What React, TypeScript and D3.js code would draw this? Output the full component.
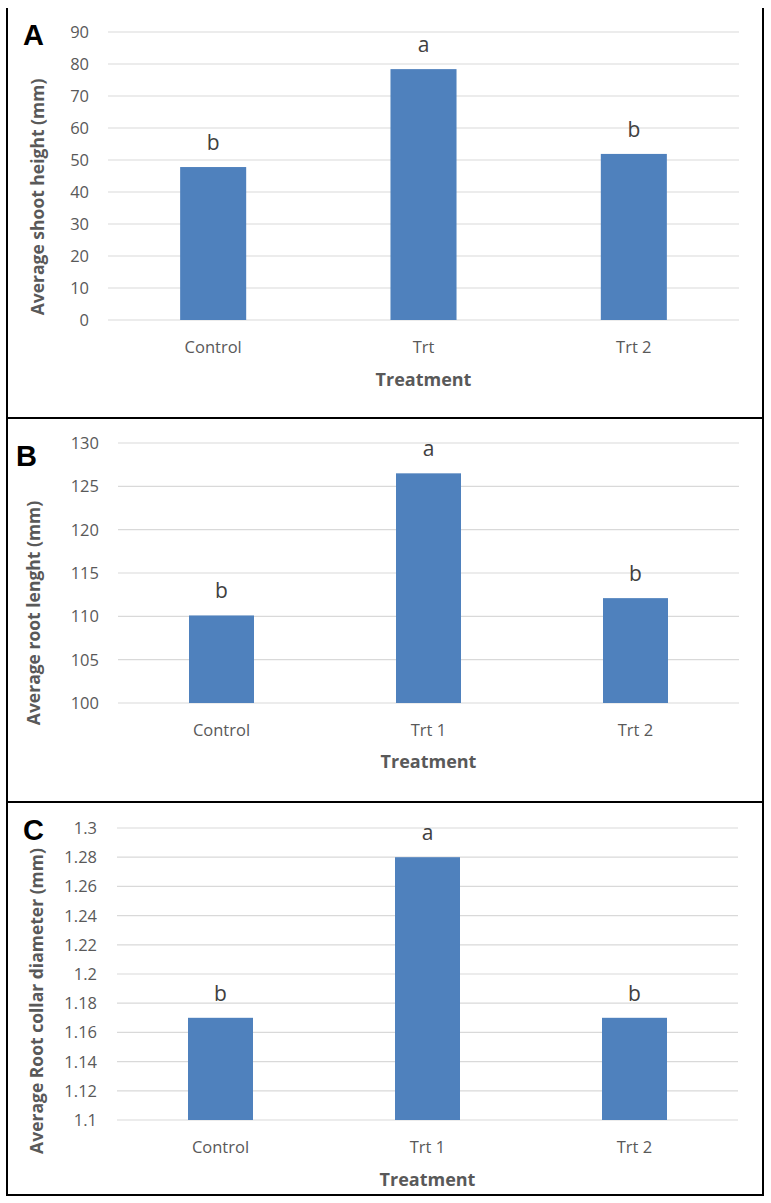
import React from "react";
import * as d3 from "d3";

// ---- data ----
const categoriesA = ["Control", "Trt", "Trt 2"];
const shootHeight = [47.8, 78.4, 51.9];
const lettersA = ["b", "a", "b"];
const ticksA = [0, 10, 20, 30, 40, 50, 60, 70, 80, 90];

const categoriesB = ["Control", "Trt 1", "Trt 2"];
const rootLength = [110.1, 126.5, 112.1];
const lettersB = ["b", "a", "b"];
const ticksB = [100, 105, 110, 115, 120, 125, 130];

const categoriesC = ["Control", "Trt 1", "Trt 2"];
const collarDiameter = [1.17, 1.28, 1.17];
const lettersC = ["b", "a", "b"];
const ticksC = [1.1, 1.12, 1.14, 1.16, 1.18, 1.2, 1.22, 1.24, 1.26, 1.28, 1.3];

const FONT = "'Open Sans', sans-serif";
const GREY = "#595959";
const BAR = "#4f81bd";

type PanelProps = {
  label: string;
  labelX: number;
  labelY: number;
  categories: string[];
  values: number[];
  letters: string[];
  ticks: number[];
  x0: number;
  x1: number;
  yTop: number;
  yBottom: number;
  tickX: number;
  titleX: number;
  titleY: number;
  title: string;
  catY: number;
  treatY: number;
  fmt: (v: number) => string;
};

function Panel(p: PanelProps) {
  const x = d3.scaleBand<string>().domain(p.categories).range([p.x0, p.x1]).paddingInner(0.686).paddingOuter(0.343);
  const y = d3
    .scaleLinear()
    .domain([p.ticks[0], p.ticks[p.ticks.length - 1]])
    .range([p.yBottom, p.yTop]);
  return (
    <g>
      {p.ticks.map((t) => (
        <g key={t}>
          <line x1={p.x0} x2={p.x1} y1={y(t)} y2={y(t)} stroke="#d9d9d9" strokeWidth={1.2} />
          <text x={p.tickX} y={y(t)} dy="0.36em" textAnchor="end" fontFamily={FONT} fontSize={16.5} fill={GREY}>
            {p.fmt(t)}
          </text>
        </g>
      ))}
      {p.categories.map((c, i) => {
        const top = y(p.values[i]);
        const cx = (x(c) as number) + x.bandwidth() / 2;
        return (
          <g key={c}>
            <rect x={x(c)} y={top} width={x.bandwidth()} height={p.yBottom - top} fill={BAR} />
            <text x={cx} y={top - 17} textAnchor="middle" fontFamily={FONT} fontSize={21} fill="#404040">
              {p.letters[i]}
            </text>
            <text x={cx} y={p.catY} dy="0.36em" textAnchor="middle" fontFamily={FONT} fontSize={16.5} fill={GREY}>
              {c}
            </text>
          </g>
        );
      })}
      <text
        transform={`translate(${p.titleX},${p.titleY}) rotate(-90)`}
        dy="0.36em"
        textAnchor="middle"
        fontFamily={FONT}
        fontWeight="bold"
        fontSize={17.5}
        fill={GREY}
      >
        {p.title}
      </text>
      <text
        x={(p.x0 + p.x1) / 2}
        y={p.treatY}
        dy="0.36em"
        textAnchor="middle"
        fontFamily={FONT}
        fontWeight="bold"
        fontSize={18}
        fill={GREY}
      >
        Treatment
      </text>
      <text x={p.labelX} y={p.labelY} fontFamily="'Liberation Sans', Arial, sans-serif" fontWeight="bold" fontSize={29} fill="#000">
        {p.label}
      </text>
    </g>
  );
}

export default function App() {
  const fmtInt = (v: number) => String(v);
  const fmtDec = (v: number) => String(+v.toFixed(2));
  return (
    <svg width={771} height={1203} style={{ position: "absolute", left: 0, top: 0, background: "#fff" }}>
      <rect x={0} y={0} width={771} height={1203} fill="#fff" />
      <Panel
        label="A"
        labelX={23}
        labelY={45}
        categories={categoriesA}
        values={shootHeight}
        letters={lettersA}
        ticks={ticksA}
        x0={108}
        x1={739}
        yTop={32}
        yBottom={320}
        tickX={89}
        titleX={38}
        titleY={197}
        title="Average shoot height (mm)"
        catY={347}
        treatY={380}
        fmt={fmtInt}
      />
      <Panel
        label="B"
        labelX={16}
        labelY={466}
        categories={categoriesB}
        values={rootLength}
        letters={lettersB}
        ticks={ticksB}
        x0={118}
        x1={739}
        yTop={443}
        yBottom={703}
        tickX={99}
        titleX={34}
        titleY={613}
        title="Average root lenght (mm)"
        catY={730}
        treatY={762}
        fmt={fmtInt}
      />
      <Panel
        label="C"
        labelX={23}
        labelY={840}
        categories={categoriesC}
        values={collarDiameter}
        letters={lettersC}
        ticks={ticksC}
        x0={117}
        x1={738}
        yTop={828}
        yBottom={1120}
        tickX={97}
        titleX={37}
        titleY={1001}
        title="Average Root collar diameter (mm)"
        catY={1147}
        treatY={1180}
        fmt={fmtDec}
      />
      {/* frame */}
      <g stroke="#000" strokeWidth={2} fill="none">
        <line x1={7} x2={7} y1={8} y2={1196} />
        <line x1={763} x2={763} y1={8} y2={1196} />
        <line x1={6} x2={764} y1={418} y2={418} />
        <line x1={6} x2={764} y1={802} y2={802} />
        <line x1={6} x2={764} y1={1195} y2={1195} />
      </g>
    </svg>
  );
}
